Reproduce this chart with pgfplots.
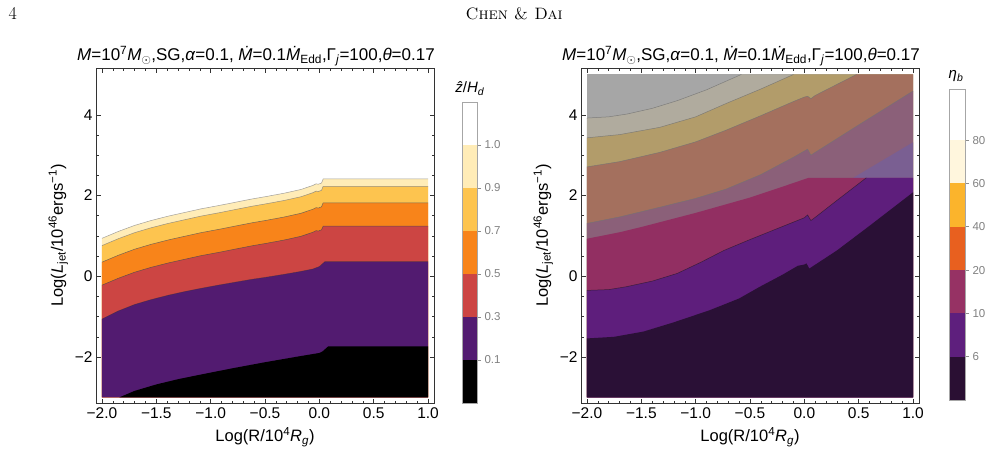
\documentclass[border=0pt]{standalone}
\usepackage{fontspec}
\setsansfont{Liberation Sans}
\usepackage{pgfplots}
\pgfplotsset{compat=1.18}
% left panel colours
\definecolor{lyel}{HTML}{FFECB7}
\definecolor{yor}{HTML}{FDC44F}
\definecolor{ora}{HTML}{F8841A}
\definecolor{redd}{HTML}{CC4543}
\definecolor{purl}{HTML}{521B70}
% right panel colours
\definecolor{rdark}{HTML}{2A1036}
\definecolor{rpur}{HTML}{5E1E7C}
\definecolor{rpink}{HTML}{922F62}
\definecolor{rmauve}{HTML}{8B6079}
\definecolor{rbrown}{HTML}{A4705E}
\definecolor{rtan}{HTML}{B29C6A}
\definecolor{rlgray}{HTML}{B0AB9E}
\definecolor{rgray}{HTML}{A6A6A6}
\definecolor{rblue}{HTML}{7A5F92}
% colourbar right
\definecolor{cb1}{HTML}{2A0F33}
\definecolor{cb2}{HTML}{5E1F7D}
\definecolor{cb3}{HTML}{963264}
\definecolor{cb4}{HTML}{E8601F}
\definecolor{cb5}{HTML}{FBB42C}
\definecolor{cb6}{HTML}{FFF6DD}
\newcommand\fs[1]{\fontsize{#1}{#1}\selectfont}
\newcommand\ttl{\textit{M}=10\textsuperscript{7}\textit{M}\textsubscript{$\odot$},SG,\textit{α}=0.1, \textit{\.{M}}=0.1\textit{\.{M}}\textsubscript{Edd},Γ\textsubscript{\textit{j}}=100,\textit{θ}=0.17}
\pgfplotsset{
 mainax/.style={scale only axis, anchor=south west, width=338pt, height=335pt,
   xmin=-2.055, xmax=1.055, ymin=-3.14, ymax=5.16,
   axis line style={draw=black!80, line width=0.6pt},
   tick align=inside, major tick length=4.5pt, minor tick length=2.5pt,
   every tick/.style={black!80, line width=0.5pt},
   xtick={-2,-1.5,-1,-0.5,0,0.5,1}, xticklabels={−2.0,−1.5,−1.0,−0.5,0.0,0.5,1.0},
   minor x tick num=4,
   ytick={-2,0,2,4}, yticklabels={−2,0,2,4}, minor y tick num=3,
   tick label style={font=\sffamily\fs{15.5}},
   xticklabel style={yshift=-1pt},
   label style={font=\sffamily\fs{16.5}},
   xlabel style={yshift=-2pt},
   xlabel={Log(R/10\textsuperscript{4}\textit{R}\textsubscript{\textit{g}})},
   ylabel={Log(\textit{L}\textsubscript{jet}/10\textsuperscript{46}ergs\textsuperscript{−1})},
   no markers, axis on top, clip=true},
 cbax/.style={scale only axis, anchor=south west, xmin=0, xmax=1, ymin=0,
   axis line style={draw=black!35, line width=0.5pt},
   xtick=\empty, ytick={1,2,3,4,5,6}, ytick pos=right, tick align=outside,
   major tick length=4pt, every tick/.style={black!45, line width=0.5pt},
   yticklabel style={font=\sffamily\fs{11.5}, text=black!50},
   no markers, axis on top},
 band/.style={fill=#1, draw=none},
 cline/.style={draw=black!60, draw opacity=0.8, line width=0.5pt}
}
\begin{document}
\begin{tikzpicture}
\path[use as bounding box] (0pt,0pt) rectangle (989pt,459pt);
\node[anchor=base west, font=\fs{18}] at (5pt,439pt) {4};
\node[anchor=base west, font=\fs{16.5}] at (462pt,439pt) {\textsc{Chen \& Dai}};
% ---------------- LEFT PANEL ----------------
\begin{axis}[mainax, at={(96pt,56pt)}]
\addplot[band=lyel] coordinates {(-2,-3)(-2.00,0.94)(-1.85,1.11)(-1.70,1.26)(-1.55,1.38)(-1.39,1.49)(-1.24,1.58)(-1.09,1.67)(-0.93,1.75)(-0.78,1.83)(-0.63,1.91)(-0.48,1.98)(-0.32,2.06)(-0.17,2.15)(-0.06,2.25)(-0.03,2.29)(-0.01,2.28)(0.02,2.31)(0.035,2.41)(1.0,2.41)(1,-3)} -- cycle;
\addplot[band=yor] coordinates {(-2,-3)(-2.00,0.76)(-1.85,0.93)(-1.70,1.08)(-1.55,1.20)(-1.39,1.31)(-1.24,1.40)(-1.09,1.49)(-0.93,1.57)(-0.78,1.65)(-0.63,1.73)(-0.48,1.80)(-0.32,1.88)(-0.17,1.97)(-0.06,2.07)(-0.03,2.11)(-0.01,2.10)(0.02,2.13)(0.035,2.23)(1.0,2.23)(1,-3)} -- cycle;
\addplot[band=ora] coordinates {(-2,-3)(-2.00,0.35)(-1.85,0.52)(-1.70,0.67)(-1.55,0.79)(-1.39,0.90)(-1.24,0.99)(-1.09,1.08)(-0.93,1.16)(-0.78,1.24)(-0.63,1.32)(-0.48,1.39)(-0.32,1.47)(-0.17,1.56)(-0.06,1.66)(-0.03,1.70)(-0.01,1.69)(0.02,1.72)(0.035,1.82)(1.0,1.82)(1,-3)} -- cycle;
\addplot[band=redd] coordinates {(-2,-3)(-2.00,-0.22)(-1.85,-0.05)(-1.70,0.10)(-1.55,0.22)(-1.39,0.33)(-1.24,0.42)(-1.09,0.51)(-0.93,0.59)(-0.78,0.67)(-0.63,0.75)(-0.48,0.82)(-0.32,0.90)(-0.17,0.99)(-0.06,1.09)(-0.03,1.13)(-0.01,1.12)(0.02,1.15)(0.035,1.24)(1.0,1.24)(1,-3)} -- cycle;
\addplot[band=purl] coordinates {(-2,-3)(-2.00,-1.06)(-1.85,-0.86)(-1.70,-0.70)(-1.55,-0.58)(-1.39,-0.47)(-1.24,-0.38)(-1.09,-0.30)(-0.93,-0.22)(-0.78,-0.15)(-0.63,-0.08)(-0.48,-0.02)(-0.32,0.05)(-0.17,0.12)(-0.06,0.18)(0.0,0.24)(0.05,0.36)(1.0,0.36)(1,-3)} -- cycle;
\addplot[band=black] coordinates {(-1.84,-3.0)(-1.7,-2.84)(-1.5,-2.68)(-1.3,-2.55)(-1.1,-2.44)(-0.8,-2.28)(-0.5,-2.13)(-0.2,-1.99)(0.0,-1.90)(0.03,-1.86)(0.08,-1.74)(1.0,-1.74)(1,-3)} -- cycle;
% contour lines
\addplot[cline, draw=black!45] coordinates {(-2.00,0.94)(-1.85,1.11)(-1.70,1.26)(-1.55,1.38)(-1.39,1.49)(-1.24,1.58)(-1.09,1.67)(-0.93,1.75)(-0.78,1.83)(-0.63,1.91)(-0.48,1.98)(-0.32,2.06)(-0.17,2.15)(-0.06,2.25)(-0.03,2.29)(-0.01,2.28)(0.02,2.31)(0.035,2.41)(1.0,2.41)};
\addplot[cline, draw=black!50] coordinates {(-2.00,0.76)(-1.85,0.93)(-1.70,1.08)(-1.55,1.20)(-1.39,1.31)(-1.24,1.40)(-1.09,1.49)(-0.93,1.57)(-0.78,1.65)(-0.63,1.73)(-0.48,1.80)(-0.32,1.88)(-0.17,1.97)(-0.06,2.07)(-0.03,2.11)(-0.01,2.10)(0.02,2.13)(0.035,2.23)(1.0,2.23)};
\addplot[cline, draw=black!65] coordinates {(-2.00,0.35)(-1.85,0.52)(-1.70,0.67)(-1.55,0.79)(-1.39,0.90)(-1.24,0.99)(-1.09,1.08)(-0.93,1.16)(-0.78,1.24)(-0.63,1.32)(-0.48,1.39)(-0.32,1.47)(-0.17,1.56)(-0.06,1.66)(-0.03,1.70)(-0.01,1.69)(0.02,1.72)(0.035,1.82)(1.0,1.82)};
\addplot[cline, draw=black!70] coordinates {(-2.00,-0.22)(-1.85,-0.05)(-1.70,0.10)(-1.55,0.22)(-1.39,0.33)(-1.24,0.42)(-1.09,0.51)(-0.93,0.59)(-0.78,0.67)(-0.63,0.75)(-0.48,0.82)(-0.32,0.90)(-0.17,0.99)(-0.06,1.09)(-0.03,1.13)(-0.01,1.12)(0.02,1.15)(0.035,1.24)(1.0,1.24)};
\addplot[cline, draw=black!80, draw opacity=0.5] coordinates {(-2.00,-1.06)(-1.85,-0.86)(-1.70,-0.70)(-1.55,-0.58)(-1.39,-0.47)(-1.24,-0.38)(-1.09,-0.30)(-0.93,-0.22)(-0.78,-0.15)(-0.63,-0.08)(-0.48,-0.02)(-0.32,0.05)(-0.17,0.12)(-0.06,0.18)(0.0,0.24)(0.05,0.36)(1.0,0.36)};
\end{axis}
% left colour bar
\begin{axis}[cbax, at={(462pt,56pt)}, width=15pt, height=301pt, ymax=7,
  yticklabels={0.1,0.3,0.5,0.7,0.9,1.0}]
\addplot[band=black] coordinates {(0,0)(1,0)(1,1)(0,1)} -- cycle;
\addplot[band=purl] coordinates {(0,1)(1,1)(1,2)(0,2)} -- cycle;
\addplot[band=redd] coordinates {(0,2)(1,2)(1,3)(0,3)} -- cycle;
\addplot[band=ora] coordinates {(0,3)(1,3)(1,4)(0,4)} -- cycle;
\addplot[band=yor] coordinates {(0,4)(1,4)(1,5)(0,5)} -- cycle;
\addplot[band=lyel] coordinates {(0,5)(1,5)(1,6)(0,6)} -- cycle;
\addplot[band=white] coordinates {(0,6)(1,6)(1,7)(0,7)} -- cycle;
\end{axis}
% ---------------- RIGHT PANEL ----------------
\begin{axis}[mainax, at={(581pt,56pt)}]
\addplot[band=rgray] coordinates {(-2,-3)(-2,5)(1,5)(1,-3)} -- cycle;
\addplot[band=rlgray] coordinates {(-2,-3)(-2.00,3.92)(-1.80,3.95)(-1.63,4.02)(-1.40,4.16)(-1.17,4.35)(-0.90,4.62)(-0.58,5.00)(1,5)(1,-3)} -- cycle;
\addplot[band=rtan] coordinates {(-2,-3)(-2.00,3.43)(-1.70,3.51)(-1.33,3.69)(-1.00,3.95)(-0.72,4.28)(-0.40,4.64)(-0.10,5.00)(1,5)(1,-3)} -- cycle;
\addplot[band=rbrown] coordinates {(-2,-3)(-2.00,2.71)(-1.70,2.84)(-1.33,3.07)(-1.00,3.33)(-0.72,3.62)(-0.40,3.98)(-0.10,4.33)(0.00,4.44)(0.03,4.46)(0.06,4.40)(0.10,4.48)(0.48,5.00)(1,5)(1,-3)} -- cycle;
\addplot[band=rmauve] coordinates {(-2,-3)(-2.00,1.31)(-1.70,1.47)(-1.33,1.71)(-1.00,1.93)(-0.72,2.16)(-0.40,2.52)(-0.10,2.95)(0.03,3.15)(0.06,3.00)(0.10,3.07)(0.50,3.75)(1.00,4.59)(1,-3)} -- cycle;
\addplot[band=rblue] coordinates {(0.45,2.44)(1.00,3.32)(1.00,2.44)} -- cycle;
\addplot[band=rpink] coordinates {(-2,-3)(-2.00,0.93)(-1.70,1.09)(-1.50,1.22)(-1.00,1.57)(-0.50,1.95)(-0.20,2.22)(0.04,2.44)(1.00,2.44)(1,-3)} -- cycle;
\addplot[band=rpur] coordinates {(-2,-3)(-2.00,-0.35)(-1.80,-0.33)(-1.64,-0.26)(-1.40,-0.12)(-1.17,0.07)(-0.95,0.35)(-0.74,0.64)(-0.50,0.91)(-0.25,1.18)(0.00,1.45)(0.03,1.52)(0.06,1.38)(0.10,1.46)(0.30,1.88)(0.57,2.44)(1.00,2.44)(1,-3)} -- cycle;
\addplot[band=rdark] coordinates {(-2,-3)(-2.00,-1.54)(-1.75,-1.50)(-1.48,-1.37)(-1.20,-1.14)(-0.87,-0.84)(-0.60,-0.55)(-0.41,-0.26)(-0.20,0.04)(-0.06,0.26)(0.00,0.29)(0.02,0.32)(0.045,0.19)(0.30,0.64)(0.60,1.25)(1.00,2.08)(1,-3)} -- cycle;
% contour lines
\addplot[cline, draw=black!55] coordinates {(-2.00,3.92)(-1.80,3.95)(-1.63,4.02)(-1.40,4.16)(-1.17,4.35)(-0.90,4.62)(-0.58,5.00)};
\addplot[cline, draw=black!55] coordinates {(-2.00,3.43)(-1.70,3.51)(-1.33,3.69)(-1.00,3.95)(-0.72,4.28)(-0.40,4.64)(-0.10,5.00)};
\addplot[cline, draw=black!55] coordinates {(-2.00,2.71)(-1.70,2.84)(-1.33,3.07)(-1.00,3.33)(-0.72,3.62)(-0.40,3.98)(-0.10,4.33)(0.00,4.44)(0.03,4.46)(0.06,4.40)(0.10,4.48)(0.48,5.00)};
\addplot[cline, draw=black!55] coordinates {(-2.00,1.31)(-1.70,1.47)(-1.33,1.71)(-1.00,1.93)(-0.72,2.16)(-0.40,2.52)(-0.10,2.95)(0.03,3.15)(0.06,3.00)(0.10,3.07)(0.50,3.75)(1.00,4.59)};
\addplot[cline, draw=black!90, draw opacity=0.6] coordinates {(-2.00,-0.35)(-1.80,-0.33)(-1.64,-0.26)(-1.40,-0.12)(-1.17,0.07)(-0.95,0.35)(-0.74,0.64)(-0.50,0.91)(-0.25,1.18)(0.00,1.45)(0.03,1.52)(0.06,1.38)(0.10,1.46)(0.30,1.88)(0.57,2.44)};
\end{axis}
% right colour bar
\begin{axis}[cbax, at={(949pt,59pt)}, width=16pt, height=311pt, ymax=7.18,
  yticklabels={6,10,20,40,60,80}]
\addplot[band=cb1] coordinates {(0,0)(1,0)(1,1)(0,1)} -- cycle;
\addplot[band=cb2] coordinates {(0,1)(1,1)(1,2)(0,2)} -- cycle;
\addplot[band=cb3] coordinates {(0,2)(1,2)(1,3)(0,3)} -- cycle;
\addplot[band=cb4] coordinates {(0,3)(1,3)(1,4)(0,4)} -- cycle;
\addplot[band=cb5] coordinates {(0,4)(1,4)(1,5)(0,5)} -- cycle;
\addplot[band=cb6] coordinates {(0,5)(1,5)(1,6)(0,6)} -- cycle;
\addplot[band=white] coordinates {(0,6)(1,6)(1,7.18)(0,7.18)} -- cycle;
\end{axis}
% titles
\node[anchor=base, font=\sffamily\fs{17}] at (256pt,398pt) {\ttl};
\node[anchor=base, font=\sffamily\fs{17}] at (741pt,398pt) {\ttl};
\node[anchor=base, font=\sffamily\fs{15}] at (470pt,366pt) {\textit{\^{z}}/\textit{H}\textsubscript{\textit{d}}};
\node[anchor=base, font=\sffamily\fs{15}] at (956pt,380pt) {\textit{η}\textsubscript{\textit{b}}};
\end{tikzpicture}
\end{document}
